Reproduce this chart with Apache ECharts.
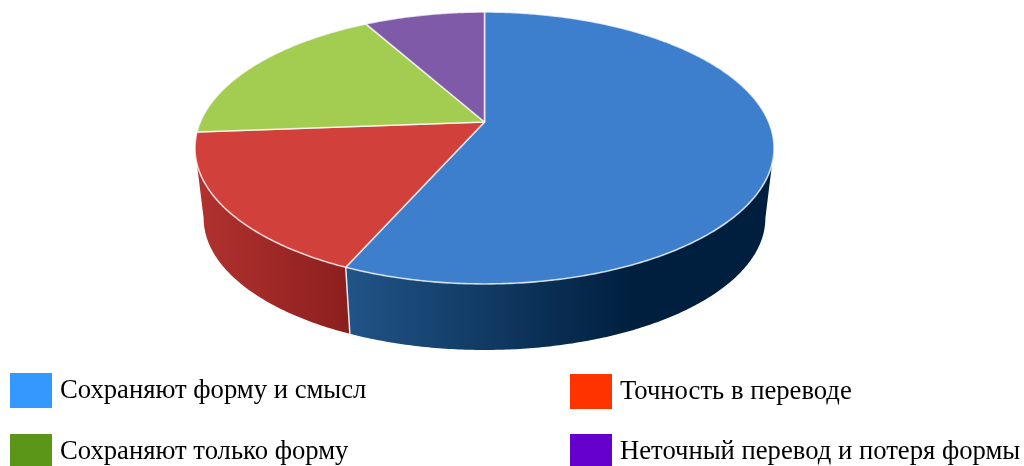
<!DOCTYPE html>
<html><head><meta charset="utf-8">
<style>html,body{margin:0;padding:0;background:#fff}#c{width:1024px;height:466px}</style>
<script src="https://cdn.jsdelivr.net/npm/echarts@6/dist/echarts.min.js"></script>
</head><body><div id="c"></div>
<script>
const categories = ['Сохраняют форму и смысл','Точность в переводе','Сохраняют только форму','Неточный перевод и потеря формы'];
const values = [56.6,17.2,18.1,8.1];
const topColors = ['#3e7fcd','#d1403b','#a2cd50','#7f5aa8'];
const legendColors = ['#3399ff','#ff3300','#5c9619','#6600cc'];
const wallStops = [
  [[0,'#215488'],[0.67,'#001f3e'],[1,'#001f3e']],
  [[0,'#b2322f'],[1,'#8b1f1e']],
  [[0,'#7a9c3a'],[1,'#7a9c3a']],
  [[0,'#5e4180'],[1,'#5e4180']]
];
const legendPos = [[10,373],[570,374],[10,434],[570,434]];
const legendTextTop = [2,0,2,2];

const CX=484.5, K=0.191, TOP={y0:122,a:131,b:284.2}, BOT={y0:193,a:127,b:275.7};
function proj(f,t){ // t = clockwise angle from the back of the disc
  const X=Math.sin(t), Y=-Math.cos(t), w=1-K*Y;
  return [CX+f.b*X/w, f.y0+f.a*Y/w];
}
function arc(f,a0,a1){
  const n=Math.max(2,Math.ceil((a1-a0)/0.01)), p=[];
  for(let i=0;i<=n;i++) p.push(proj(f,a0+(a1-a0)*i/n));
  return p;
}
const total=values.reduce((s,v)=>s+v,0);
const T=Math.PI*2;
// silhouette angles: where the disc's depth coordinate equals K
const silR=Math.PI-Math.acos(K), silL=T-silR;
function startOf(i){let s=0;for(let j=0;j<i;j++)s+=values[j];return s/total*T;}

function renderFor(i){
  return function(){
    const a0=startOf(i), a1=a0+values[i]/total*T, kids=[];
    const w0=Math.max(a0,silR), w1=Math.min(a1,silL);
    if(w1>w0){
      const t=arc(TOP,w0,w1), b=arc(BOT,w0,w1).reverse(), pts=t.concat(b);
      const xs=pts.map(p=>p[0]), minX=Math.min(...xs), maxX=Math.max(...xs);
      const stops=wallStops[i].map(s=>({offset:s[0],color:s[1]}));
      kids.push({type:'polygon',z2:1,shape:{points:pts},silent:true,
        style:{fill:new echarts.graphic.LinearGradient(minX,0,maxX,0,stops,true),stroke:null}});
      if(a0>silR&&a0<silL){
        const e0=proj(TOP,a0), e1=proj(BOT,a0);
        kids.push({type:'line',z2:2,silent:true,
          shape:{x1:e0[0],y1:e0[1],x2:e1[0],y2:e1[1]},
          style:{stroke:'rgba(255,255,255,0.9)',lineWidth:1.5}});
      }
    }
    const pts=[[CX,TOP.y0]].concat(arc(TOP,a0,a1));
    kids.push({type:'polygon',z2:3,shape:{points:pts},
      style:{fill:topColors[i],stroke:'rgba(255,255,255,0.75)',lineWidth:1.6,lineJoin:'round'}});
    return {type:'group',children:kids};
  };
}
const chart=echarts.init(document.getElementById('c'),null,{renderer:'canvas'});
chart.setOption({
  animation:false,
  legend:categories.map((n,i)=>({
    data:[{name:n,icon:'rect',itemStyle:{color:legendColors[i],borderWidth:0}}],
    left:legendPos[i][0],top:legendPos[i][1],padding:0,
    itemWidth:42,itemHeight:35,selectedMode:false,
    textStyle:{fontFamily:'"Liberation Serif"',fontSize:26.67,color:'#000',padding:[legendTextTop[i],0,0,3]}
  })),
  series:categories.map((n,i)=>({
    type:'custom',name:n,coordinateSystem:'none',data:[values[i]],
    itemStyle:{color:legendColors[i]},
    renderItem:renderFor(i)
  }))
});
</script></body></html>
